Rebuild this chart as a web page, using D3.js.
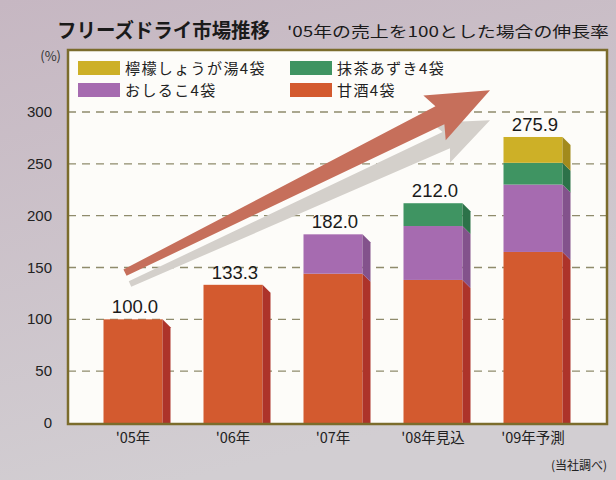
<!DOCTYPE html>
<html>
<head>
<meta charset="utf-8">
<script src="https://cdn.jsdelivr.net/npm/d3@7"></script>
<style>
  html, body { margin: 0; padding: 0; background: #cbc2c9; }
  svg { display: block; }
</style>
</head>
<body>
<svg id="chart" width="616" height="480"></svg>
<script>
// フリーズドライ市場推移（'05年=100）

const categories = ["'05年", "'06年", "'07年", "'08年見込", "'09年予測"];
const seriesKeys = ["amazake", "oshiruko", "matcha", "lemon"];
const seriesNames = ["甘酒4袋", "おしるこ4袋", "抹茶あずき4袋", "檸檬しょうが湯4袋"];
const amazake  = [100.0, 133.3, 144.0, 138.0, 165.0];
const oshiruko = [0, 0, 38.0, 52.0, 65.0];
const matcha   = [0, 0, 0, 22.0, 21.0];
const lemon    = [0, 0, 0, 0, 24.9];
const totalLabels = ["100.0", "133.3", "182.0", "212.0", "275.9"];
const yTicks = [0, 50, 100, 150, 200, 250, 300];
// 矢印（カテゴリ位置, 値）
const arrowRed  = [[-0.08, 145], [3.57, 321]];
const arrowGray = [[-0.03, 134], [3.57, 292]];

const colors = {
  amazake:  { front: "#d35a2f", side: "#ad332a" },
  oshiruko: { front: "#a66bb0", side: "#83528c" },
  matcha:   { front: "#3f9462", side: "#2c7249" },
  lemon:    { front: "#cdb027", side: "#a28a1c" }
};

const svg = d3.select("#chart");
const W = 616, H = 480;
const frame = { left: 68, top: 50, right: 607, bottom: 424 };

// 背景
const defs = svg.append("defs");
const bg = defs.append("linearGradient").attr("id", "bg")
  .attr("x1", 0).attr("y1", 0).attr("x2", 0.3).attr("y2", 1);
bg.append("stop").attr("offset", 0).attr("stop-color", "#c6b7c2");
bg.append("stop").attr("offset", 1).attr("stop-color", "#d2ced2");
svg.append("rect").attr("width", W).attr("height", H).attr("fill", "url(#bg)");

const x = d3.scaleBand().domain(categories).range([83, 583])
  .paddingInner(0.41).paddingOuter(0.205);
const xi = d3.scaleLinear().domain([0, 4])
  .range([x(categories[0]) + x.bandwidth() / 2, x(categories[4]) + x.bandwidth() / 2]);
const y = d3.scaleLinear().domain([0, 300]).range([423, 112]);

// 枠
svg.append("rect")
  .attr("x", frame.left).attr("y", frame.top)
  .attr("width", frame.right - frame.left).attr("height", frame.bottom - frame.top)
  .attr("fill", "#fdfcf9");

// グリッド
svg.append("g").selectAll("line")
  .data(yTicks.filter(d => d > 0))
  .join("line")
  .attr("x1", frame.left).attr("x2", frame.right)
  .attr("y1", d => y(d)).attr("y2", d => y(d))
  .attr("stroke", "#8f8b6c")
  .attr("stroke-width", 1.4)
  .attr("stroke-dasharray", "8,6");

// y軸ラベル
svg.append("g").selectAll("text")
  .data(yTicks)
  .join("text")
  .attr("x", 52).attr("y", d => y(d) + 5)
  .attr("text-anchor", "end")
  .attr("font-family", "Liberation Sans, Arial, sans-serif")
  .attr("font-size", 15)
  .attr("fill", "#222")
  .text(d => d);

svg.append("text")
  .attr("x", 61).attr("y", 61)
  .attr("text-anchor", "end")
  .attr("font-family", "Noto Sans CJK JP, sans-serif")
  .attr("font-size", 13)
  .attr("fill", "#333")
  .text("(%)");

// 矢印
function arrowPath(pts, tailHalf, baseHalf, headHalf, headLen) {
  const p0 = [xi(pts[0][0]), y(pts[0][1])];
  const p1 = [xi(pts[1][0]), y(pts[1][1])];
  const dx = p1[0] - p0[0], dy = p1[1] - p0[1];
  const len = Math.hypot(dx, dy);
  const u = [dx / len, dy / len], n = [-u[1], u[0]];
  const b = [p1[0] - u[0] * headLen, p1[1] - u[1] * headLen];
  const bb = [b[0] - u[0] * 6, b[1] - u[1] * 6];
  const pt = (c, k) => [c[0] + n[0] * k, c[1] + n[1] * k];
  return [pt(p0, tailHalf), pt(b, baseHalf), pt(bb, headHalf), p1,
          pt(bb, -headHalf), pt(b, -baseHalf), pt(p0, -tailHalf)];
}
svg.append("polygon")
  .attr("points", arrowPath(arrowGray, 3, 9, 22, 48).map(p => p.join(",")).join(" "))
  .attr("fill", "#d4d0cb");
svg.append("polygon")
  .attr("points", arrowPath(arrowRed, 3.5, 10, 25, 56).map(p => p.join(",")).join(" "))
  .attr("fill", "#c66f5b");

// 積み上げ棒
const table = categories.map((c, i) => ({
  cat: c, amazake: amazake[i], oshiruko: oshiruko[i], matcha: matcha[i], lemon: lemon[i]
}));
const stacked = d3.stack().keys(seriesKeys)(table);
const depth = 8;

const bars = svg.append("g");
stacked.forEach(layer => {
  const key = layer.key;
  const g = bars.append("g");
  layer.forEach(d => {
    if (d[1] - d[0] <= 0) return;
    const x0 = x(d.data.cat), x1 = x0 + x.bandwidth();
    const yTop = y(d[1]), yBot = y(d[0]);
    g.append("rect")
      .attr("x", x0).attr("y", yTop)
      .attr("width", x.bandwidth()).attr("height", yBot - yTop)
      .attr("fill", colors[key].front);
    const botR = d[0] === 0 ? yBot : yBot + depth;
    g.append("polygon")
      .attr("points", [[x1, yTop], [x1 + depth, yTop + depth], [x1 + depth, botR], [x1, yBot]]
        .map(p => p.join(",")).join(" "))
      .attr("fill", colors[key].side);
  });
});

// 合計ラベル
svg.append("g").selectAll("text")
  .data(table)
  .join("text")
  .attr("x", d => x(d.cat) + x.bandwidth() / 2 + 2)
  .attr("y", (d, i) => y(amazake[i] + oshiruko[i] + matcha[i] + lemon[i]) - 6)
  .attr("text-anchor", "middle")
  .attr("font-family", "Liberation Sans, Arial, sans-serif")
  .attr("font-size", 18.5)
  .attr("fill", "#1a1a1a")
  .text((d, i) => totalLabels[i]);

// 枠線
svg.append("rect")
  .attr("x", frame.left).attr("y", frame.top)
  .attr("width", frame.right - frame.left).attr("height", frame.bottom - frame.top)
  .attr("fill", "none")
  .attr("stroke", "#7b6c2c")
  .attr("stroke-width", 2.5);

// x軸ラベル
svg.append("g").selectAll("text")
  .data(categories)
  .join("text")
  .attr("x", d => x(d) + x.bandwidth() / 2)
  .attr("y", 443)
  .attr("text-anchor", "middle")
  .attr("font-family", "Noto Sans CJK JP, sans-serif")
  .attr("font-size", 14.5)
  .attr("fill", "#222")
  .text(d => d);

// 凡例
const legendItems = [
  { key: "lemon", col: 0, row: 0 },
  { key: "matcha", col: 1, row: 0 },
  { key: "oshiruko", col: 0, row: 1 },
  { key: "amazake", col: 1, row: 1 }
];
const legend = svg.append("g").selectAll("g")
  .data(legendItems)
  .join("g")
  .attr("transform", d => `translate(${78 + d.col * 212},${61 + d.row * 22})`);
legend.append("rect")
  .attr("width", 42).attr("height", 14)
  .attr("fill", d => colors[d.key].front);
legend.append("text")
  .attr("x", 47).attr("y", 13)
  .attr("font-family", "Noto Sans CJK JP, sans-serif")
  .attr("font-size", 15)
  .attr("letter-spacing", 1.4)
  .attr("fill", "#222")
  .text(d => seriesNames[seriesKeys.indexOf(d.key)]);

// タイトル
svg.append("text")
  .attr("x", 57).attr("y", 38)
  .attr("font-family", "Noto Sans CJK JP, sans-serif")
  .attr("font-weight", 700)
  .attr("font-size", 20)
  .attr("textLength", 213)
  .attr("lengthAdjust", "spacingAndGlyphs")
  .attr("fill", "#1a1a1a")
  .text("フリーズドライ市場推移");

svg.append("text")
  .attr("x", 287).attr("y", 37)
  .attr("font-family", "Noto Sans CJK JP, sans-serif")
  .attr("font-size", 15)
  .attr("textLength", 322)
  .attr("lengthAdjust", "spacingAndGlyphs")
  .attr("fill", "#1a1a1a")
  .text("'05年の売上を100とした場合の伸長率");

svg.append("text")
  .attr("x", 607).attr("y", 470)
  .attr("text-anchor", "end")
  .attr("font-family", "Noto Sans CJK JP, sans-serif")
  .attr("font-size", 12)
  .attr("fill", "#222")
  .text("(当社調べ)");
</script>
</body>
</html>
